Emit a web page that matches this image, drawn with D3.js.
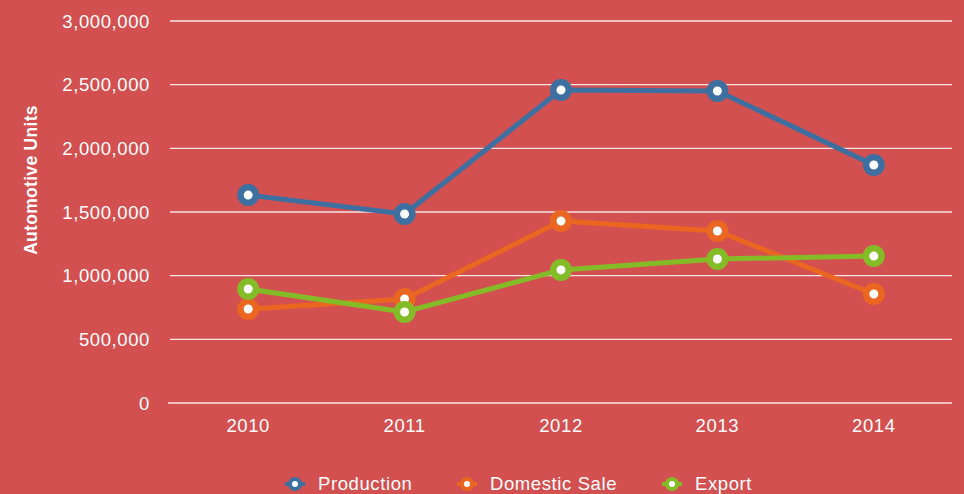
<!DOCTYPE html>
<html><head><meta charset="utf-8">
<script src="https://cdn.jsdelivr.net/npm/d3@7"></script>
<style>
html,body{margin:0;padding:0;background:#d35050;}
svg{display:block;font-family:"Liberation Sans",Arial,Helvetica,sans-serif;}
</style></head>
<body>
<svg id="chart" width="964" height="494"></svg>
<script>
const years = ["2010","2011","2012","2013","2014"];
const production = [1633000, 1484000, 2458000, 2450000, 1869000];
const domesticSale = [738000, 817000, 1429000, 1351000, 856000];
const exportUnits = [895000, 715000, 1045000, 1131000, 1154000];
const seriesNames = ["Production","Domestic Sale","Export"];
const seriesColors = ["#3d70a1","#eb6620","#84bc27"];
const yTicks = [0,500000,1000000,1500000,2000000,2500000,3000000];

const svg = d3.select("#chart");
const W = 964, H = 494;
svg.append("rect").attr("width",W).attr("height",H).attr("fill","#d35050");

const m = {left:170, right:12, top:21, bottom:91};
const x = d3.scaleBand().domain(years).range([m.left, W-m.right]);
const y = d3.scaleLinear().domain([0,3000000]).range([H-m.bottom, m.top]);

const fmt = d3.format(",");
// grid
svg.append("g").selectAll("line").data(yTicks).join("line")
  .attr("x1", d => d===0 ? m.left-2 : m.left).attr("x2", W-m.right)
  .attr("y1", d => y(d)).attr("y2", d => y(d))
  .attr("stroke", "#f6e4e4").attr("stroke-width", 1.3);
// y labels
svg.append("g").selectAll("text").data(yTicks).join("text")
  .attr("x", 150).attr("y", d => y(d)).attr("dy","0.36em")
  .attr("text-anchor","end").attr("fill","#fff").attr("font-size",18.5)
  .attr("letter-spacing",0.6)
  .text(d => fmt(d));
// x labels
svg.append("g").selectAll("text").data(years).join("text")
  .attr("x", d => x(d)+x.bandwidth()/2).attr("y", 432)
  .attr("text-anchor","middle").attr("fill","#fff").attr("font-size",18.5)
  .attr("letter-spacing",0.6)
  .text(d => d);
// axis title
svg.append("text").attr("transform","translate(37,180) rotate(-90)")
  .attr("text-anchor","middle").attr("fill","#fff").attr("font-size",17.5).attr("font-weight","bold")
  .attr("letter-spacing",0.3)
  .text("Automotive Units");

const data = [production, domesticSale, exportUnits];
const line = d3.line().x((d,i)=>x(years[i])+x.bandwidth()/2).y(d=>y(d));
data.forEach((vals, si) => {
  const g = svg.append("g");
  g.append("path").datum(vals).attr("d", line).attr("fill","none")
    .attr("stroke", seriesColors[si]).attr("stroke-width",5).attr("stroke-linejoin","round");
  g.selectAll("circle").data(vals).join("circle")
    .attr("cx",(d,i)=>x(years[i])+x.bandwidth()/2).attr("cy",d=>y(d))
    .attr("r",7.75).attr("fill","#fff").attr("stroke",seriesColors[si]).attr("stroke-width",6.5);
});

// legend
const legX = [295, 467, 672];
const lg = svg.append("g");
seriesNames.forEach((n,i) => {
  const cx = legX[i], cy = 484;
  lg.append("line").attr("x1",cx-10).attr("x2",cx+10).attr("y1",cy).attr("y2",cy)
    .attr("stroke",seriesColors[i]).attr("stroke-width",4);
  lg.append("circle").attr("cx",cx).attr("cy",cy).attr("r",5).attr("fill","#fff")
    .attr("stroke",seriesColors[i]).attr("stroke-width",4);
  lg.append("text").attr("x",cx+23).attr("y",490)
    .attr("fill","#fff").attr("font-size",18.5).attr("letter-spacing",0.6).text(n);
});
</script>
</body></html>
